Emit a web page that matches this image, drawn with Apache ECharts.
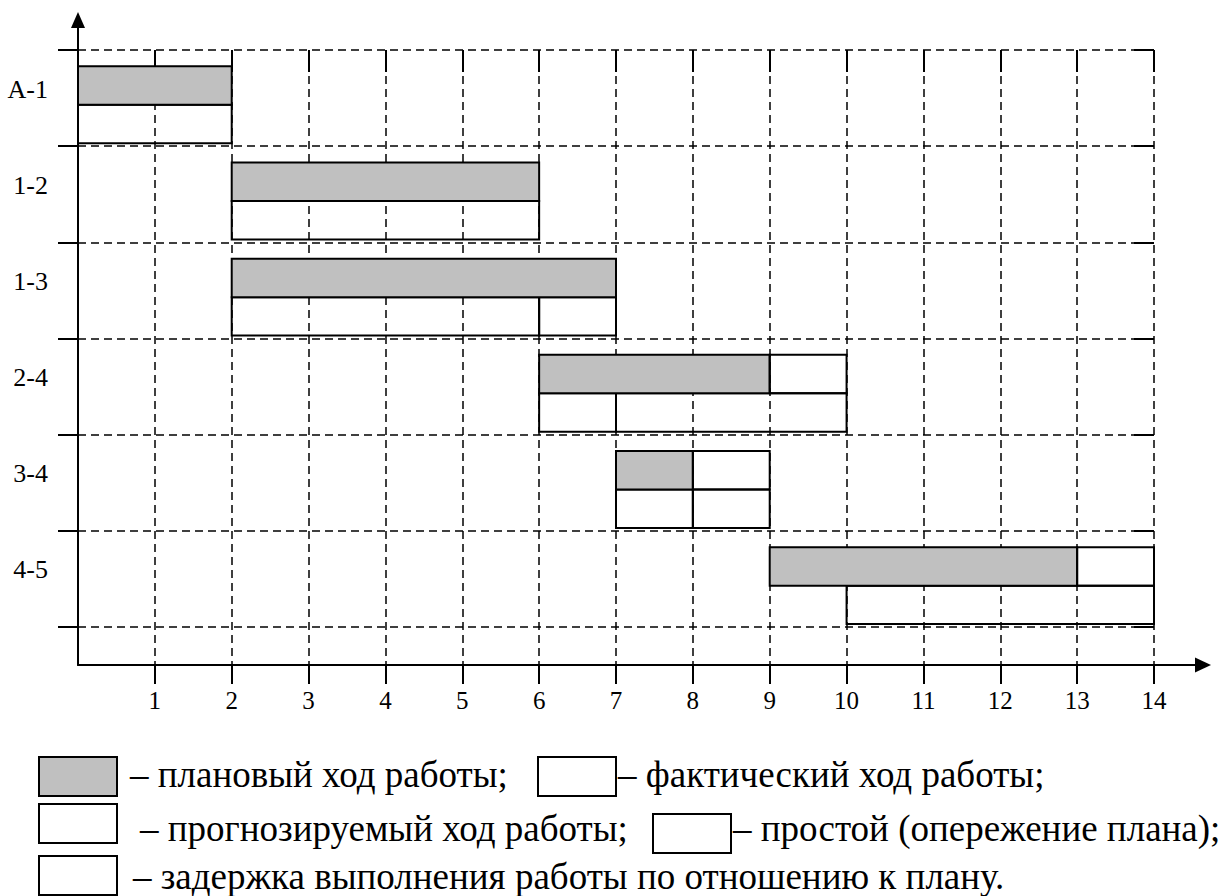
<!DOCTYPE html>
<html>
<head>
<meta charset="utf-8">
<script src="https://cdn.jsdelivr.net/npm/echarts@6/dist/echarts.min.js"></script>
<style>
  html, body { margin: 0; padding: 0; background: #fff; }
  #chart { width: 1227px; height: 896px; }
</style>
</head>
<body>
<div id="chart"></div>
<script>
// works (rows of the Gantt chart), top to bottom
const tasks = ["A-1", "1-2", "1-3", "2-4", "3-4", "4-5"];

// day numbers on the time axis
const dayMin = 0;
const dayMax = 14;

// [task index, start day, end day]
const plannedRuns = [[0, 0, 2], [1, 2, 6], [2, 2, 7], [3, 6, 9], [4, 7, 8], [5, 9, 13]];
const planTailRuns = [[3, 9, 10], [4, 8, 9], [5, 13, 14]];
const actualRuns = [
    [0, 0, 2], [1, 2, 6], [2, 2, 6], [2, 6, 7],
    [3, 6, 7], [3, 7, 10], [4, 7, 8], [4, 8, 9], [5, 10, 14]
];

// legend texts
const legendLabels = [
    "– плановый ход работы;",
    "– фактический ход работы;",
    "– прогнозируемый ход работы;",
    "– простой (опережение плана);",
    "– задержка выполнения работы по отношению к плану."
];

const SERIF = '"Liberation Serif", "DejaVu Serif", serif';
const GRAY = "#c0c0c0";
const DASH = { color: "#000", width: 1.5, type: [8, 5] };

/**
 * ----------------------------------------
 * SEGMENT RENDERER
 * lane 0 = upper half of the row, lane 1 = lower half
 * ----------------------------------------
 */
function segmentRenderer(lane, fill) {
    return function (params, api) {
        const row = api.value(0);
        const a = api.coord([api.value(1), row]);
        const b = api.coord([api.value(2), row]);
        const band = api.size([0, 1])[1];
        const h = band * 0.4;
        const top = a[1] - band / 2 + band * 0.17 + lane * h;
        return {
            type: "rect",
            shape: { x: a[0], y: top, width: b[0] - a[0], height: h },
            style: { fill: fill, stroke: "#000", lineWidth: 2 }
        };
    };
}

function legendBox(x, y, fill) {
    return {
        type: "rect",
        shape: { x: x, y: y, width: 78, height: 39 },
        style: { fill: fill, stroke: "#000", lineWidth: 2 }
    };
}

function legendText(x, y, text) {
    return {
        type: "text",
        x: x,
        y: y,
        style: {
            text: text,
            fill: "#000",
            font: "37px " + SERIF,
            verticalAlign: "middle",
            textVerticalAlign: "middle"
        }
    };
}

const chart = echarts.init(document.getElementById("chart"), null, { renderer: "svg" });

chart.setOption({
    backgroundColor: "#fff",
    animation: false,

    grid: [
        // frame: the two axis lines with arrows
        { left: 78, right: 24, top: 20, bottom: 231 },
        // day ticks + vertical dashed lines
        { left: 78, right: 73, top: 50, bottom: 231 },
        // task rows
        { left: 78, right: 73, top: 50, bottom: 269 }
    ],

    xAxis: [
        {
            gridIndex: 0, type: "value", min: 0, max: 1,
            axisLine: {
                show: true, onZero: false,
                symbol: ["none", "triangle"], symbolSize: [15, 16],
                lineStyle: { color: "#000", width: 2 }
            },
            axisTick: { show: false }, axisLabel: { show: false }, splitLine: { show: false }
        },
        {
            gridIndex: 1, type: "value", min: dayMin, max: dayMax, interval: 1,
            axisLine: { show: false },
            axisTick: { show: true, length: 19, lineStyle: { color: "#000", width: 2 } },
            axisLabel: {
                show: true, showMinLabel: false, margin: 23,
                color: "#000", fontFamily: SERIF, fontSize: 25
            },
            splitLine: { show: true, showMinLine: false, lineStyle: DASH }
        },
        {
            // same ticks drawn upward, so they cross the axis line
            gridIndex: 1, type: "value", min: dayMin, max: dayMax, interval: 1,
            axisLine: { show: false },
            axisTick: { show: true, inside: true, length: 22, lineStyle: { color: "#000", width: 2 } },
            axisLabel: { show: false }, splitLine: { show: false }
        },
        {
            gridIndex: 2, type: "value", min: dayMin, max: dayMax, show: false
        }
    ],

    yAxis: [
        {
            gridIndex: 0, type: "value", min: 0, max: 1,
            axisLine: {
                show: true, onZero: false,
                symbol: ["none", "triangle"], symbolSize: [14, 16],
                lineStyle: { color: "#000", width: 2 }
            },
            axisTick: { show: false }, axisLabel: { show: false }, splitLine: { show: false }
        },
        {
            gridIndex: 1, type: "value", min: 0, max: 1, show: false
        },
        {
            gridIndex: 2, type: "category", data: tasks, inverse: true,
            axisLine: { show: false },
            axisTick: { show: true, length: 20, lineStyle: { color: "#000", width: 2 } },
            axisLabel: {
                show: true, margin: 30,
                verticalAlign: "bottom", lineHeight: 18,
                color: "#000", fontFamily: SERIF, fontSize: 26
            },
            splitLine: { show: true, lineStyle: DASH }
        },
        {
            gridIndex: 2, type: "category", data: tasks, inverse: true,
            axisLine: { show: false },
            axisTick: { show: true, inside: true, length: 20, lineStyle: { color: "#000", width: 2 } },
            axisLabel: { show: false }, splitLine: { show: false }
        }
    ],

    series: [
        {
            name: "actual",
            type: "custom",
            xAxisIndex: 3, yAxisIndex: 2,
            renderItem: segmentRenderer(1, "transparent"),
            encode: { x: [1, 2], y: 0 },
            data: actualRuns
        },
        {
            name: "plan",
            type: "custom",
            xAxisIndex: 3, yAxisIndex: 2,
            renderItem: segmentRenderer(0, GRAY),
            encode: { x: [1, 2], y: 0 },
            data: plannedRuns
        },
        {
            name: "plan tail",
            type: "custom",
            xAxisIndex: 3, yAxisIndex: 2,
            renderItem: segmentRenderer(0, "transparent"),
            encode: { x: [1, 2], y: 0 },
            data: planTailRuns
        }
    ],

    graphic: [
        legendBox(39, 757, GRAY),
        legendText(130, 774, legendLabels[0]),
        legendBox(538, 757, "#fff"),
        legendText(618, 774, legendLabels[1]),

        legendBox(39, 804, "#fff"),
        legendText(140, 828, legendLabels[2]),
        legendBox(653, 814, "#fff"),
        legendText(733, 828, legendLabels[3]),

        legendBox(39, 856, "#fff"),
        legendText(133, 876, legendLabels[4])
    ]
});
</script>
</body>
</html>
